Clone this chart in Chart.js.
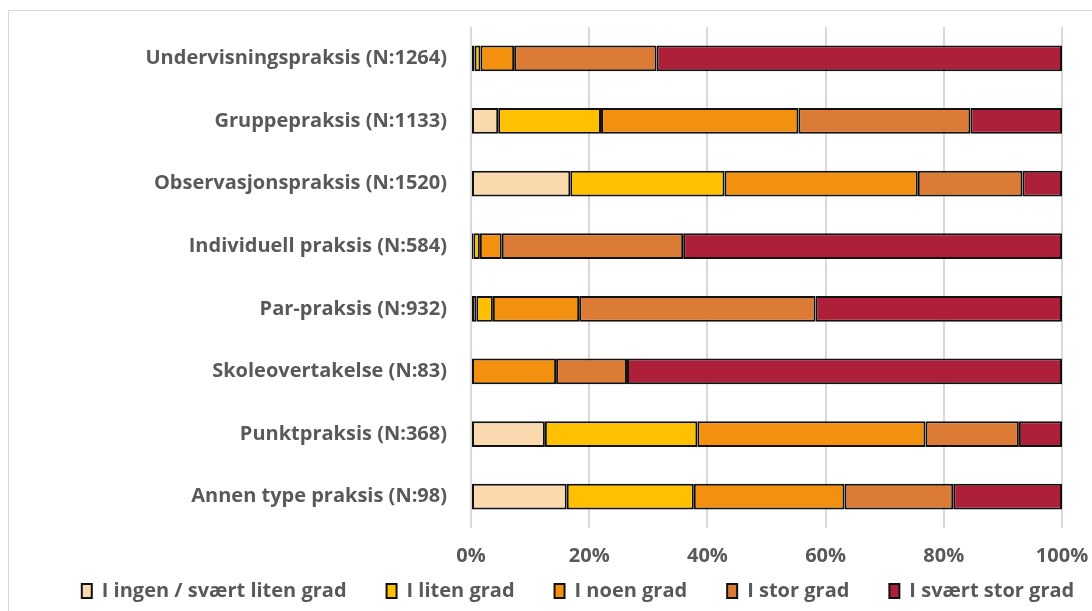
<!DOCTYPE html>
<html>
<head>
<meta charset="utf-8">
<script src="https://cdn.jsdelivr.net/npm/chart.js@4/dist/chart.umd.min.js"></script>
<style>
  html, body { margin: 0; padding: 0; background: #fff; }
  #wrap { position: relative; width: 1092px; height: 611px; }
  #frame { position: absolute; left: 8px; top: 10px; right: -2px; bottom: -2px;
           border-left: 1px solid #d9d9d9; border-top: 1px solid #d9d9d9; }
  canvas { position: absolute; left: 0; top: 0; }
</style>
</head>
<body>
<div id="wrap">
  <div id="frame"></div>
  <canvas id="chart" width="1092" height="611"></canvas>
</div>
<script>
// Categories (top to bottom)
const categories = [
    'Undervisningspraksis (N:1264)',
    'Gruppepraksis (N:1133)',
    'Observasjonspraksis (N:1520)',
    'Individuell praksis (N:584)',
    'Par-praksis (N:932)',
    'Skoleovertakelse (N:83)',
    'Punktpraksis (N:368)',
    'Annen type praksis (N:98)'
];

// Series labels
const seriesNames = ['I ingen / svært liten grad', 'I liten grad', 'I noen grad', 'I stor grad', 'I svært stor grad'];

// Values in percent, one array per series
const ingenGrad     = [0.6, 4.6, 16.8, 0.4, 0.9, 0.0, 12.5, 16.2];
const litenGrad     = [1.0, 17.4, 26.1, 1.1, 2.8, 0.0, 25.8, 21.5];
const noenGrad      = [5.7, 33.4, 32.7, 3.7, 14.6, 14.4, 38.6, 25.5];
const storGrad      = [24.1, 29.1, 17.7, 30.7, 40.0, 12.0, 15.8, 18.4];
const sværtStorGrad = [68.6, 15.5, 6.7, 64.1, 41.7, 73.6, 7.3, 18.4];

const seriesValues = [ingenGrad, litenGrad, noenGrad, storGrad, sværtStorGrad];
const colors = ['#FAD9AE', '#FFC000', '#F39010', '#DC7B35', '#AE2039'];

const textColor = '#595959';
const font = { family: 'Open Sans', size: 20, weight: 'bold' };

const datasets = seriesNames.map((name, i) => ({
    label: name,
    data: seriesValues[i],
    backgroundColor: colors[i],
    borderColor: '#111',
    borderWidth: 2,
    borderSkipped: false,
    categoryPercentage: 0.82,
    barPercentage: 0.5
}));

// squeeze the legend up under the x labels and nudge it right like the original
const legendPlace = {
    id: 'legendPlace',
    beforeInit(chart) {
        const fit = chart.legend.fit;
        chart.legend.fit = function () {
            fit.call(this);
            this.height = 41;
        };
    },
    afterLayout(chart) {
        chart.legend.top -= 29;
        chart.legend.height += 29;
        chart.legend.left += 32;
        chart.legend.right += 32;
    }
};

new Chart(document.getElementById('chart'), {
    type: 'bar',
    data: { labels: categories, datasets: datasets },
    plugins: [legendPlace],
    options: {
        indexAxis: 'y',
        responsive: false,
        animation: false,
        layout: { padding: { top: 27, right: 0, bottom: 0, left: 0 } },
        scales: {
            x: {
                stacked: true,
                min: 0,
                max: 100,
                ticks: {
                    stepSize: 20,
                    color: textColor,
                    font: font,
                    padding: 16,
                    callback: v => v + '%'
                },
                grid: { color: '#d9d9d9', lineWidth: 2, drawTicks: false },
                border: { display: false },
                afterFit: scale => {
                    scale.height = 42;
                    scale.paddingRight = 30;
                    scale.paddingLeft = 0;
                }
            },
            y: {
                stacked: true,
                ticks: { color: textColor, font: font, padding: 24 },
                grid: { display: false, drawTicks: false },
                border: { display: false },
                afterFit: scale => {
                    scale.width = 471;
                    scale.paddingTop = 0;
                    scale.paddingBottom = 0;
                }
            }
        },
        plugins: {
            legend: {
                position: 'bottom',
                labels: {
                    color: textColor,
                    font: font,
                    boxWidth: 10,
                    boxHeight: 14,
                    padding: 40
                }
            },
            tooltip: { enabled: false }
        }
    }
});
</script>
</body>
</html>
